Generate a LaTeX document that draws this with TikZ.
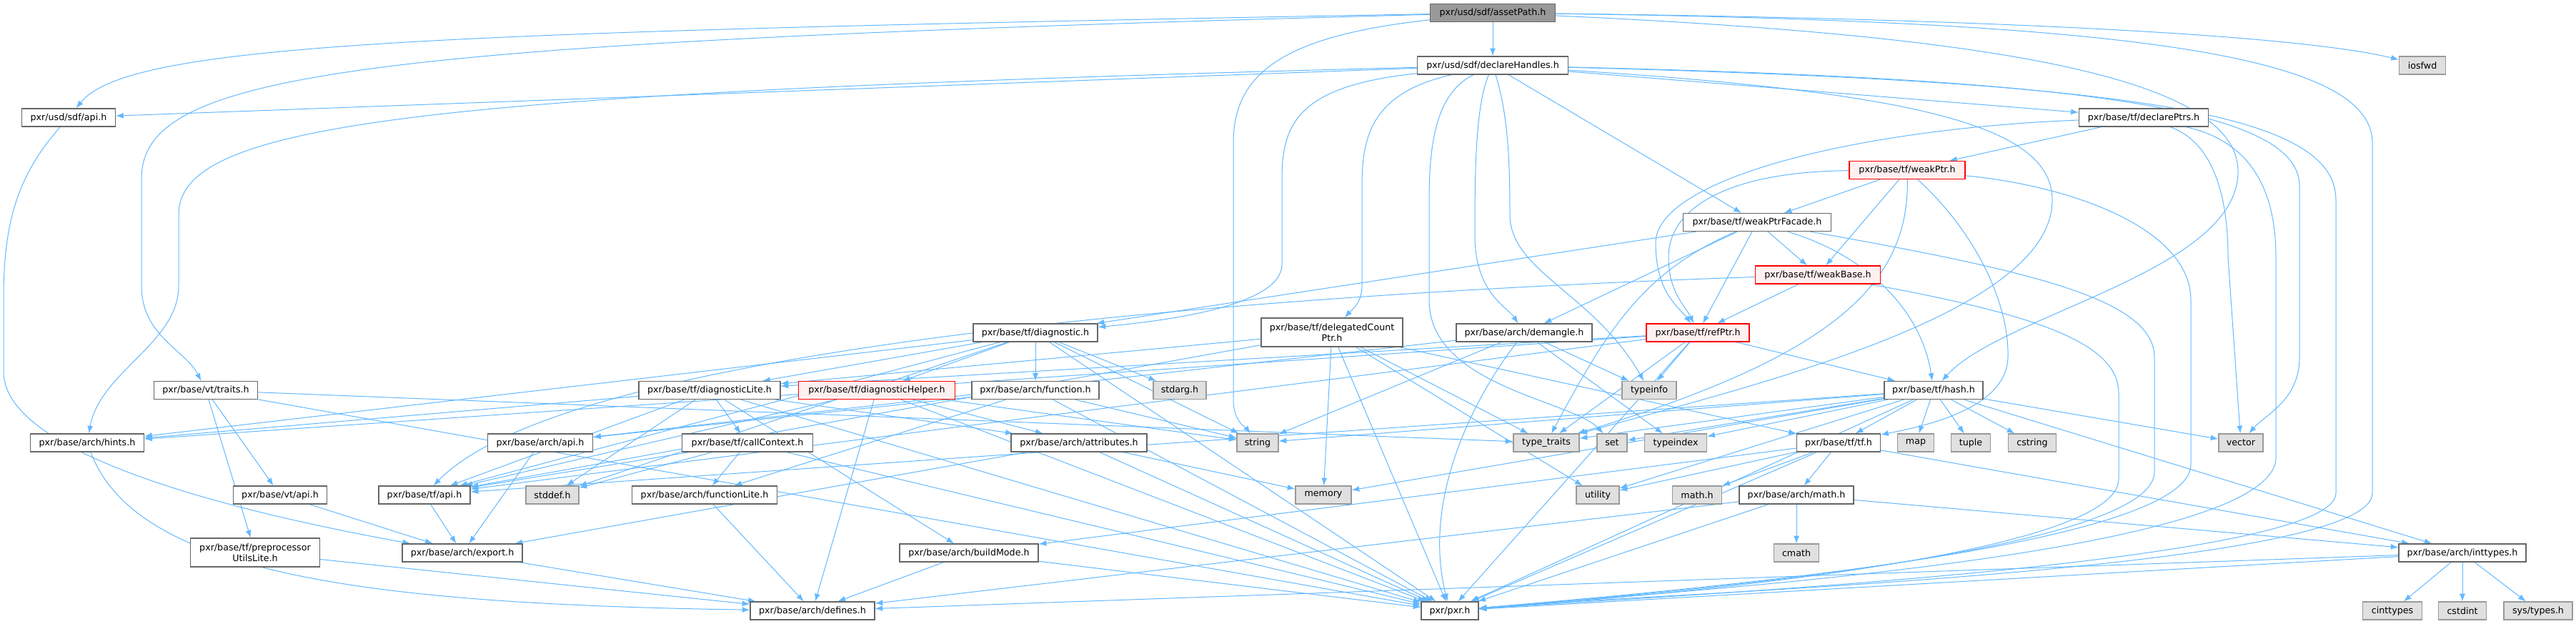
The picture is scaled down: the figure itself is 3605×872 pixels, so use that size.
\documentclass[tikz,border=0pt]{standalone}
\usepackage{fontspec}
\setmainfont{DejaVu Sans}
\usetikzlibrary{arrows.meta}
\definecolor{depblue}{HTML}{63B8FF}
\pgfdeclarelayer{edges}
\pgfsetlayers{edges,main}

\begin{document}
\begin{tikzpicture}[x=0.75pt,y=-0.75pt,
  hdr/.style={draw=black!60,fill=white,line width=0.9pt,inner sep=0pt,
    minimum height=18.75pt,font=\fontsize{9.5}{11.5}\selectfont,align=center},
  bw/.style={minimum width=#1*0.75pt},
  sys/.style={hdr,draw=black!40,fill=black!12},
  trunc/.style={hdr,draw=red,fill=red!6},
  root/.style={hdr,fill=black!40},
  tall/.style={minimum height=30pt},
  dep/.style={draw=depblue,line width=0.75pt,-{Latex[length=8pt,width=6pt]}}]
\useasboundingbox (0,0) rectangle (3605,872);

% headers, row by row
\node[root,bw=175] (ap) at (2089,18) {pxr/usd/sdf/assetPath.h};
\node[hdr,bw=211] (dh) at (2089,91.5) {pxr/usd/sdf/declareHandles.h};
\node[sys,bw=65] (iosfwd) at (3390,91.5) {iosfwd};
\node[hdr,bw=131] (sdfapi) at (96,164.5) {pxr/usd/sdf/api.h};
\node[hdr,bw=181] (dptrs) at (3000,164.5) {pxr/base/tf/declarePtrs.h};
\node[trunc,bw=162] (wptr) at (2669,238) {pxr/base/tf/weakPtr.h};
\node[hdr,bw=207] (wpf) at (2459,311) {pxr/base/tf/weakPtrFacade.h};
\node[trunc,bw=175] (wbase) at (2544,384.5) {pxr/base/tf/weakBase.h};

\node[hdr,bw=174] (diag) at (1449,465.5) {pxr/base/tf/diagnostic.h};
\node[hdr,bw=198,tall] (dcp) at (1864,465) {pxr/base/tf/delegatedCount\\Ptr.h};
\node[hdr,bw=190] (demangle) at (2133,465.5) {pxr/base/arch/demangle.h};
\node[trunc,bw=144] (refptr) at (2376,465.5) {pxr/base/tf/refPtr.h};

\node[hdr,bw=145] (vtraits) at (288,546) {pxr/base/vt/traits.h};
\node[hdr,bw=198] (dlite) at (993,546) {pxr/base/tf/diagnosticLite.h};
\node[trunc,bw=219] (dhelp) at (1227,546) {pxr/base/tf/diagnosticHelper.h};
\node[hdr,bw=178] (func) at (1449,546) {pxr/base/arch/function.h};
\node[sys,bw=74] (stdarg) at (1651,546) {stdarg.h};
\node[sys,bw=76] (typeinfo) at (2308,546) {typeinfo};
\node[hdr,bw=138] (hash) at (2706,546) {pxr/base/tf/hash.h};

\node[hdr,bw=159] (hints) at (122,619.5) {pxr/base/arch/hints.h};
\node[hdr,bw=147] (archapi) at (756,619.5) {pxr/base/arch/api.h};
\node[hdr,bw=183] (callctx) at (1046,619.5) {pxr/base/tf/callContext.h};
\node[hdr,bw=190] (attrs) at (1510,619.5) {pxr/base/arch/attributes.h};
\node[sys,bw=58] (string) at (1760,619.5) {string};
\node[sys,bw=92] (ttraits) at (2164,619.5) {type\_traits};
\node[sys,bw=42] (set) at (2256,619.5) {set};
\node[sys,bw=87] (typeindex) at (2345,619.5) {typeindex};
\node[hdr,bw=117] (tfh) at (2573,619.5) {pxr/base/tf/tf.h};
\node[sys,bw=51] (map) at (2681,619.5) {map};
\node[sys,bw=55] (tuple) at (2758,619.5) {tuple};
\node[sys,bw=67] (cstring) at (2844,619.5) {cstring};
\node[sys,bw=62] (vector) at (3136,619.5) {vector};

\node[hdr,bw=131] (vtapi) at (392,692.5) {pxr/base/vt/api.h};
\node[hdr,bw=128] (tfapi) at (594,692.5) {pxr/base/tf/api.h};
\node[sys,bw=74] (stddef) at (773,692.5) {stddef.h};
\node[hdr,bw=203] (flite) at (986,692.5) {pxr/base/arch/functionLite.h};
\node[sys,bw=78] (memory) at (1852,692.5) {memory};
\node[sys,bw=60] (utility) at (2236,692.5) {utility};
\node[sys,bw=69] (mathh) at (2375,692.5) {math.h};
\node[hdr,bw=160] (archmath) at (2514,692.5) {pxr/base/arch/math.h};

\node[hdr,bw=181,tall] (pul) at (357,773) {pxr/base/tf/preprocessor\\UtilsLite.h};
\node[hdr,bw=168] (export) at (647,773.5) {pxr/base/arch/export.h};
\node[hdr,bw=194] (bmode) at (1356,773.5) {pxr/base/arch/buildMode.h};
\node[sys,bw=63] (cmath) at (2514,773.5) {cmath};
\node[hdr,bw=178] (inttypes) at (3446,773.5) {pxr/base/arch/inttypes.h};

\node[hdr,bw=174] (defines) at (1137,854.5) {pxr/base/arch/defines.h};
\node[hdr,bw=80] (pxr) at (2029,854.5) {pxr/pxr.h};
\node[sys,bw=83] (cinttypes) at (3348,854.5) {cinttypes};
\node[sys,bw=67] (cstdint) at (3446,854.5) {cstdint};
\node[sys,bw=96] (systypes) at (3552,854.5) {sys/types.h};

\begin{pgfonlayer}{edges}
% direct includes
\foreach \a/\b in {ap/dh, dh/sdfapi, dh/wpf, dh/dptrs, dptrs/wptr,
  wptr/wpf, wptr/wbase, wpf/wbase, wpf/refptr, wpf/demangle, wpf/diag,
  wbase/refptr, demangle/typeinfo, demangle/typeindex, demangle/string,
  demangle/archapi, refptr/typeinfo, refptr/hash, refptr/ttraits,
  refptr/dlite, refptr/tfapi, refptr/hints, refptr/pxr,
  dcp/memory, dcp/utility, dcp/ttraits, dcp/pxr, dcp/tfh, dcp/dlite, dcp/tfapi,
  diag/dhelp, diag/func, diag/stdarg, diag/dlite, diag/string, diag/pxr,
  diag/hints, diag/tfapi, diag/stddef,
  dlite/callctx, dlite/bmode, dlite/attrs, dlite/hints, dlite/tfapi,
  dlite/stddef, dlite/pxr,
  dhelp/defines, dhelp/attrs, dhelp/string, dhelp/tfapi, dhelp/pxr,
  func/flite, func/string, func/archapi, func/pxr,
  callctx/flite, callctx/tfapi, callctx/stddef, callctx/pxr,
  attrs/export, attrs/pxr, attrs/memory,
  vtraits/vtapi, vtraits/pul, vtraits/ttraits, vtraits/pxr,
  hash/tfh, hash/map, hash/tuple, hash/cstring, hash/vector, hash/set,
  hash/typeindex, hash/ttraits, hash/string, hash/memory, hash/utility,
  hash/inttypes, hash/pxr, hash/tfapi,
  tfh/mathh, tfh/archmath, tfh/utility, tfh/pxr, tfh/inttypes, tfh/bmode,
  archmath/cmath, archmath/pxr, archmath/defines, archmath/inttypes,
  inttypes/cinttypes, inttypes/cstdint, inttypes/systypes, inttypes/defines,
  inttypes/pxr, bmode/defines, bmode/pxr, export/defines, pul/defines,
  flite/defines, vtapi/export, tfapi/export, archapi/export}
  \draw[dep] (\a) -- (\b);

% the long detours
\draw[dep] (ap) .. controls (600,45) and (180,60) .. (sdfapi);
\draw[dep] (ap) .. controls (500,60) and (198,100) .. (198,250) -- (198,400)
  .. controls (198,470) and (260,490) .. (vtraits);
\draw[dep] (ap) .. controls (1800,50) and (1726,100) .. (1726,200) -- (1726,560)
  .. controls (1726,590) and (1745,600) .. (string);
\draw[dep] (ap) .. controls (2700,25) and (3200,45) .. (iosfwd);
\draw[dep] (ap) .. controls (2800,50) and (3132,110) .. (3132,240)
  .. controls (3132,380) and (2800,440) .. (hash);
\draw[dep] (ap) .. controls (3000,30) and (3320,80) .. (3320,200) -- (3320,690)
  .. controls (3320,800) and (2300,830) .. (pxr);

\draw[dep] (dh) .. controls (600,130) and (250,170) .. (250,300) -- (250,400)
  .. controls (250,480) and (140,520) .. (hints);
\draw[dep] (dh) .. controls (1820,120) and (1794,170) .. (1794,250) -- (1794,370)
  .. controls (1794,430) and (1620,450) .. (diag);
\draw[dep] (dh) .. controls (1920,130) and (1906,190) .. (1906,260) -- (1906,400)
  .. controls (1906,425) and (1890,435) .. (dcp);
\draw[dep] (dh) .. controls (2064,150) and (2064,250) .. (2064,330)
  .. controls (2064,410) and (2110,430) .. (demangle);
\draw[dep] (dh) .. controls (2110,160) and (2113,220) .. (2113,300)
  .. controls (2113,380) and (2230,410) .. (typeinfo);
\draw[dep] (dh) .. controls (2010,130) and (2000,200) .. (2000,280) -- (2000,420)
  .. controls (2000,540) and (2200,560) .. (set);
\draw[dep] (dh) .. controls (2700,130) and (2872,180) .. (2872,280)
  .. controls (2872,440) and (2450,540) .. (ttraits);
\draw[dep] (dh) .. controls (2900,110) and (3218,150) .. (3218,260) -- (3218,500)
  .. controls (3218,560) and (3170,580) .. (vector);
\draw[dep] (dh) .. controls (3000,115) and (3269,160) .. (3269,280) -- (3269,690)
  .. controls (3269,790) and (2300,835) .. (pxr);

\draw[dep] (dptrs) .. controls (2600,180) and (2317,250) .. (2317,340)
  .. controls (2317,410) and (2350,430) .. (refptr);
\draw[dep] (dptrs) .. controls (3100,200) and (3118,280) .. (3118,360) -- (vector);
\draw[dep] (dptrs) .. controls (3160,200) and (3185,280) .. (3185,360) -- (3185,640)
  .. controls (3185,780) and (2300,830) .. (pxr);

\draw[dep] (wptr) .. controls (2420,240) and (2335,290) .. (2335,360)
  .. controls (2335,410) and (2360,430) .. (refptr);
\draw[dep] (wptr) .. controls (2760,320) and (2812,420) .. (2810,500)
  .. controls (2808,570) and (2700,595) .. (tfh);
\draw[dep] (wptr) .. controls (2672,400) and (2560,500) .. (ttraits);
\draw[dep] (wptr) .. controls (2900,260) and (3066,320) .. (3066,420) -- (3066,650)
  .. controls (3066,770) and (2300,830) .. (pxr);

\draw[dep] (wpf) .. controls (2620,360) and (2690,440) .. (hash);
\draw[dep] (wpf) .. controls (2300,380) and (2250,460) .. (ttraits);
\draw[dep] (wpf) .. controls (2850,380) and (3015,420) .. (3015,500) -- (3015,660)
  .. controls (3015,775) and (2300,832) .. (pxr);

\draw[dep] (wbase) .. controls (2850,440) and (2965,480) .. (2965,550) -- (2965,670)
  .. controls (2965,780) and (2300,835) .. (pxr);
\draw[dep] (wbase) .. controls (1800,410) and (800,480) .. (tfapi);
\draw[dep] (demangle) .. controls (2060,560) and (1990,700) .. (pxr);

\draw[dep] (sdfapi) .. controls (20,250) and (5,320) .. (5,420) -- (5,520)
  .. controls (5,640) and (350,720) .. (export);
\draw[dep] (hints) .. controls (190,800) and (500,845) .. (defines);
\end{pgfonlayer}
\end{tikzpicture}
\end{document}
